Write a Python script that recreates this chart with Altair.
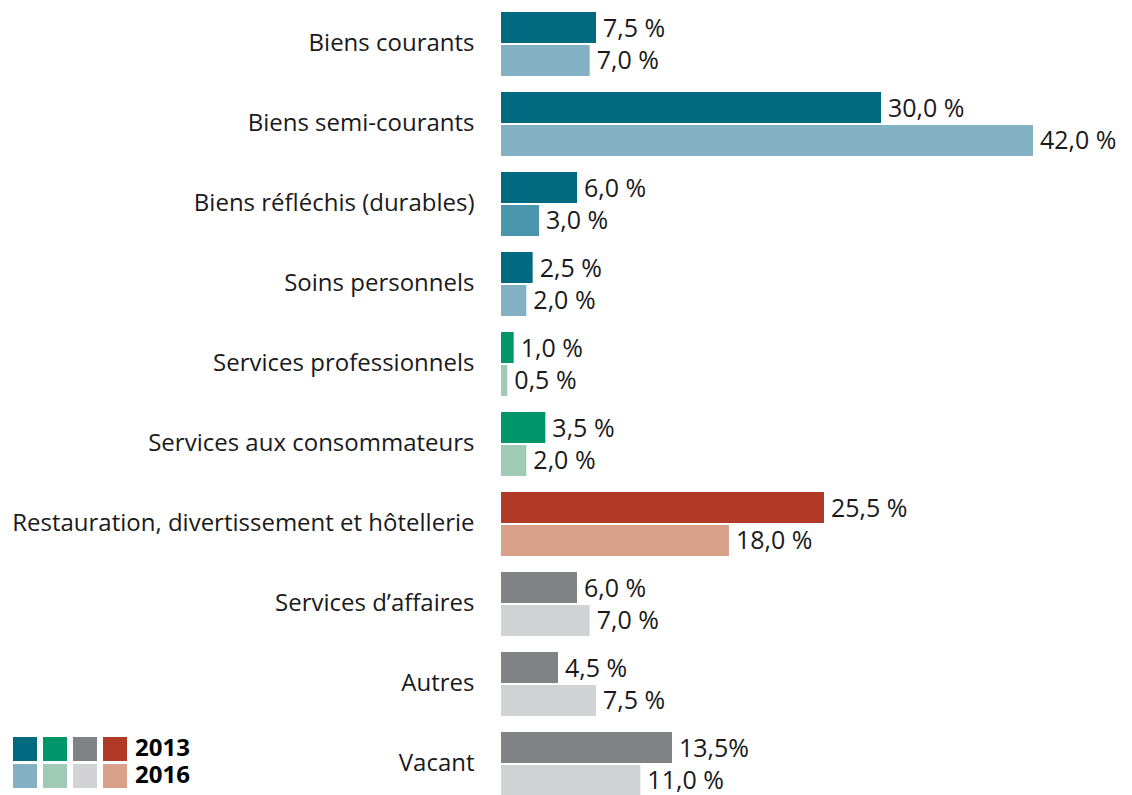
import altair as alt
import pandas as pd

categories = [
    "Biens courants",
    "Biens semi-courants",
    "Biens réfléchis (durables)",
    "Soins personnels",
    "Services professionnels",
    "Services aux consommateurs",
    "Restauration, divertissement et hôtellerie",
    "Services d’affaires",
    "Autres",
    "Vacant",
]
share_2013 = [7.5, 30.0, 6.0, 2.5, 1.0, 3.5, 25.5, 6.0, 4.5, 13.5]
share_2016 = [7.0, 42.0, 3.0, 2.0, 0.5, 2.0, 18.0, 7.0, 7.5, 11.0]
labels_2013 = ["7,5 %", "30,0 %", "6,0 %", "2,5 %", "1,0 %", "3,5 %", "25,5 %", "6,0 %", "4,5 %", "13,5%"]
labels_2016 = ["7,0 %", "42,0 %", "3,0 %", "2,0 %", "0,5 %", "2,0 %", "18,0 %", "7,0 %", "7,5 %", "11,0 %"]
family = ["teal", "teal", "teal", "teal", "green", "green", "red", "gray", "gray", "gray"]
years = ["2013", "2016"]

color_domain = ["teal-2013", "teal-2016", "teal-mid", "green-2013", "green-2016",
                "gray-2013", "gray-2016", "red-2013", "red-2016"]
color_range = ["#006A80", "#83B1C4", "#4A97AD", "#00966A", "#9ECAB6",
               "#808285", "#D1D3D4", "#B03A25", "#D9A189"]
legend_families = ["teal", "green", "gray", "red"]
color_of = dict(zip(color_domain, color_range))

rows = []
for i, c in enumerate(categories):
    for y, vals, labs in (("2013", share_2013, labels_2013), ("2016", share_2016, labels_2016)):
        key = f"{family[i]}-{y}"
        if c == "Biens réfléchis (durables)" and y == "2016":
            key = "teal-mid"
        rows.append({"category": c, "year": y, "value": vals[i], "label": labs[i], "tone": key})
df = pd.DataFrame(rows)

FONT = "Open Sans"
TXT = "#1a1a1a"

y_enc = alt.Y("category:N", sort=categories,
              scale=alt.Scale(paddingInner=0.2, paddingOuter=0.05),
              axis=alt.Axis(title=None, domain=False, ticks=False, labelPadding=27,
                            labelFontSize=24, labelFont=FONT, labelColor=TXT, labelLimit=700))
yoff = alt.YOffset("year:N", scale=alt.Scale(paddingInner=0.06, paddingOuter=0))
x_enc = alt.X("value:Q", scale=alt.Scale(domain=[0, 42], nice=False, zero=True), axis=None)

base = alt.Chart(df)
bars = base.mark_bar().encode(
    x=x_enc, y=y_enc, yOffset=yoff,
    color=alt.Color("tone:N", scale=alt.Scale(domain=color_domain, range=color_range), legend=None),
)
texts = base.mark_text(align="left", baseline="middle", dx=7, dy=1, fontSize=25, font=FONT, color=TXT).encode(
    x=x_enc, y=y_enc, yOffset=yoff, text="label:N"
)

# custom legend (swatches grid + year labels), placed at the bottom-left
layers = [bars, texts]
sw = 24
x0, dxs = -488, 30
y0, dys = 729, 27
one = alt.Data(values=[{"a": 1}])
for r, yr in enumerate(years):
    for k, fam in enumerate(legend_families):
        lx = x0 + k * dxs
        ly = y0 + r * dys
        layers.append(
            alt.Chart(one).mark_rect(color=color_of[f"{fam}-{yr}"]).encode(
                x=alt.value(lx), x2=alt.value(lx + sw), y=alt.value(ly), y2=alt.value(ly + sw)
            )
        )
    layers.append(
        alt.Chart(one).mark_text(align="left", baseline="middle", fontSize=24, fontWeight="bold",
                                 font=FONT, color="#000000", text=yr).encode(
            x=alt.value(x0 + 4 * dxs + 2), y=alt.value(y0 + r * dys + sw / 2)
        )
    )

chart = alt.layer(*layers).properties(
    width=532, height=792,
    autosize=alt.AutoSizeParams(type="none"),
    padding={"left": 493, "top": 0, "right": 90, "bottom": 0},
    background="white",
).configure_view(stroke=None)

chart.save("out.html", embed_options={"renderer": "svg", "actions": False})
